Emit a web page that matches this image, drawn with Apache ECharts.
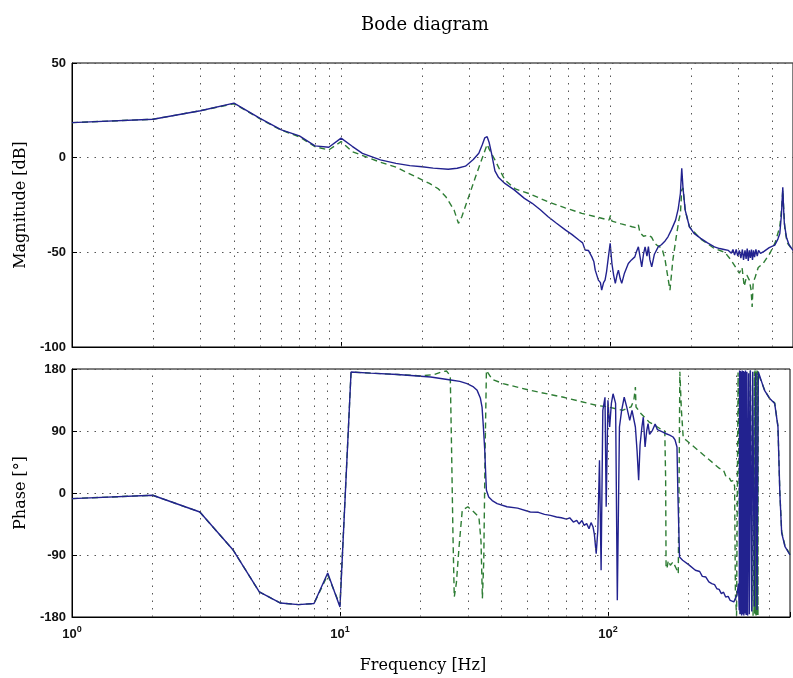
<!DOCTYPE html>
<html>
<head>
<meta charset="utf-8">
<script src="https://cdn.jsdelivr.net/npm/echarts@6/dist/echarts.min.js"></script>
<style>
html,body{margin:0;padding:0;background:#fff;}
#chart{width:793px;height:678px;}
</style>
</head>
<body>
<div id="chart"></div>
<script>
// ---- Data (frequency [Hz], value) ----
const magBlue = [
  [1,18.5],[2,20.3],[3,24.8],[4,28.8],[5,20.8],[6,14.7],[7,11.5],[8,6.2],[9,5.5],[10,10.3],
  [11,6.0],[12,2.3],[14,-1.2],[16,-3.0],[18,-4.2],[20,-4.8],[22,-5.5],[25,-6.1],[27,-5.6],[29,-4.5],
  [31,-1.0],[32.5,2.3],[33.5,7],[34.2,10.5],[34.9,11.1],[35.5,8.0],[36.2,2.5],[37.3,-7.0],[38.5,-10.5],[40.6,-13.6],
  [44,-17],[48,-21.5],[51.3,-24.1],[55,-27.5],[58.8,-31.2],[63,-34.5],[68.3,-38.3],[72,-40.5],[76.5,-43.5],[79,-45],
  [80.7,-48.8],[83,-49],[85.5,-52.4],[87,-55],[88,-59.4],[90.4,-64.7],[92,-66],[93,-70.0],[94.5,-66],[95.7,-64.7],
  [97,-60],[98.5,-52.4],[100,-45.3],[101.5,-55.9],[103,-62],[104.5,-66.4],[106,-62],[107.3,-59.4],[109,-64],[110.4,-66.4],
  [113,-61],[116.8,-55.9],[120,-54],[123.5,-52.4],[125,-50],[127.3,-47.1],[129,-52],[131,-57.7],[133,-51],[134.8,-47.1],
  [137,-52],[138.7,-47],[140.5,-54],[142.7,-57.7],[146,-51],[151,-47],[155,-46],[160,-44],[164,-41.8],[169,-38],
  [175,-33],[179,-27],[182.4,-18.8],[184.5,-5.6],[186.5,-16],[190,-27.7],[197,-36.5],[205,-40],[217,-42.6],[230,-45],
  [244,-47.1],[255,-48],[265,-48.5],[275,-49],[282,-50.5],[286,-48.5],[290,-51.5],[294,-48.5],[298,-52],[302,-49],
  [306,-53],[310,-48.5],[313,-54],[317,-49],[320,-53.5],[323,-48],[326,-54.5],[329,-49],[332,-53],[335,-48.5],
  [338,-54],[341,-49],[344,-52.5],[348,-48.5],[352,-52],[356,-49],[362,-50.5],[373,-49.5],[390,-47.5],[409,-46.2],
  [420,-43],[427,-40],[433,-30],[438,-15.7],[441,-27],[444,-35],[452,-42],[462,-46],[478,-49]
];
const magGreen = [
  [1,18.5],[2,20.3],[3,24.8],[4,28.5],[5,20.5],[6,14.5],[7,11.0],[8,5.8],[9,4.1],[10,8.5],
  [11,3.2],[13.8,-2.1],[16,-5.0],[18.4,-9.2],[21.3,-13.6],[23,-16.5],[24.5,-20.6],[26.3,-27.7],[27.3,-34.7],[28.1,-31.2],
  [29.8,-20.6],[31.6,-10.1],[33.6,0.5],[34.9,7.0],[35.5,4.5],[37.3,-1.2],[40.6,-11.8],[44.4,-16.5],[50,-19],[58.8,-23.3],
  [68,-26.5],[78.4,-29.4],[90,-31.5],[99,-33],[100.3,-30.5],[101.5,-33.5],[110,-35],[120.6,-36.5],[125,-37],[127.3,-35.5],
  [129,-39.5],[133,-41.5],[138.7,-40.9],[142.5,-42],[146.6,-45.3],[150,-46.5],[155.8,-47.9],[160,-54],[162.5,-60],[166.8,-70.0],
  [171,-54],[176,-41.8],[180,-33],[182.4,-29.4],[184.5,-17.1],[186.5,-16],[190,-27.7],[197,-36.5],[217,-43],[244,-48],
  [267,-50],[281,-54],[290,-57],[302,-61],[309,-58],[315,-68],[322,-62],[329,-64.7],[334,-70],[337,-78.8],
  [340,-66],[346,-63],[355,-58],[370,-55.9],[392,-50.6],[410,-45],[427,-36.5],[434,-26],[438,-17.1],[442,-28],
  [446,-38],[455,-45],[478,-49]
];
const phaseBlue = [
  [1,-8.1],[2,-3.3],[3,-27.6],[4,-83.2],[5,-143.7],[6,-159.7],[7,-162.0],[8,-160.5],[9,-116.1],[10,-165.5],
  [11,175.6],[13,174],[16.4,172],[21.8,168.4],[25.9,164],[28,162],[29.8,158.8],[31.5,154],[32.5,149],[33.4,138],
  [33.9,124.8],[34.3,95],[34.7,62],[35.0,25],[35.2,3.9],[35.9,-5.8],[37,-11],[38.6,-15.4],[42,-20],[46,-22],
  [51.3,-27.6],[55,-28],[58,-31],[61,-32.5],[64.3,-34.8],[67,-36],[70,-38],[72,-36],[74.3,-42.1],[76.5,-39.6],
  [78,-45],[80,-40],[81.5,-47],[83.3,-44.5],[85,-52],[86.5,-43],[88,-49.4],[89,-60],[90.4,-88],[91.7,-54],
  [93,47.5],[94.3,-112],[95.7,120],[97.5,139],[98.5,-20],[100,134.6],[101.5,95.8],[103,130],[104.5,144],[106.8,130],
  [108.4,-155.8],[110.4,95.8],[112.5,120],[115,139],[117.5,125],[120.6,105.5],[123,120],[126.6,95.8],[128.5,60],[130.2,18.4],
  [131.8,70],[133.9,95.8],[135.5,110],[137.6,66.8],[139.5,90],[141.2,100.7],[143,85],[146.6,91],[150,100],[153,92],
  [159.7,88.6],[165,86],[170,84],[175,81.3],[178,77],[181,66.8],[182.4,-1],[185,-93],[190,-97.7],[200,-104],
  [212,-112.2],[220,-114],[225,-121],[232,-122],[238,-129],[244,-131.5],[250,-133],[255,-139],[260,-140],[265,-146],
  [270,-144],[275,-151],[281,-150],[286,-156],[290,-154],[295,-158],[298,-155.8],[303,-148],[307,-131.5],[309,-170],
  [310,178],[311,-176],[312,177],[313,-175],[314,176],[315.5,-178],[317,178],[318.5,-176],[320,177],[321.5,-178],
  [323,176],[324.5,-175],[326,178],[328,-177],[330,176],[332,-178],[335,174],[337,-176],[340,178],[344,-172],
  [347,176],[352,-165],[356,174],[360,-170],[364,176],[384,149],[400,138],[419,130],[431,96],[438,0],
  [445,-58],[458,-78],[478,-90]
];
const phaseGreen = [
  [1,-8.1],[2,-3.3],[3,-27.6],[4,-83.2],[5,-143.7],[6,-159.7],[7,-162.0],[8,-160.5],[9,-119],[10,-163],
  [11,175.6],[13,174],[16.4,172],[20,170],[22.5,172],[24,176],[25,177],[25.8,170],[26.1,60],[26.4,-60],
  [26.7,-151],[27.2,-130],[27.8,-80],[28.6,-25],[30,-20],[31.6,-27.6],[33,-35],[33.6,-70],[34.0,-153],[34.4,-100],
  [34.8,60],[35.2,178],[37,165],[40.6,158.8],[51.3,149],[68.3,139],[90.4,127.3],[100,125],[113.3,120],[122,125],
  [125,135],[126.6,153.9],[127.3,124.8],[133,115],[142.5,103],[150,98],[160,91],[163,90],[164.2,20],[164.8,-107],
  [166,-110],[168,-98],[171,-105],[175,-100],[180,-110],[183,-117],[184.5,40],[185.5,176],[188,120],[191,80],
  [196,76.5],[220,60],[240,47.5],[260,36],[270,33],[275,25],[282,24],[288,17],[293,18],[297,10],
  [299,-146],[302,-178],[306,175],[312,-176],[320,177],[330,-176],[340,177],[348,-178],[352,176],[353,-177],
  [354,178],[355,-176],[356,177],[357,-178],[358,176],[359,-177],[360,178],[361,-176],[362,177],[363,-178],
  [364,173],[384,150],[400,138],[419,131],[431,97],[438,2],[445,-56],[458,-77],[478,-89]
];
const gridFreqs = [2,3,4,5,6,7,8,9,10,20,30,40,50,60,70,80,90,100,200,300,400];
const magTicks = {min:-100, max:50, interval:50};
const phaseTicks = {min:-180, max:180, interval:90};
const freqRange = {min:1, max:478};

// ---- Chart ----
const blue = '#22228f';
const green = '#2e7d34';
const serif = 'DejaVu Serif';
const sans = 'Liberation Sans';
const chart = echarts.init(document.getElementById('chart'), null, {renderer:'canvas'});

function freqLabel(v){
  const e = Math.round(Math.log10(v));
  if (Math.abs(Math.pow(10, e) - v) < 1e-6 * v) return '{b|10}{s|' + e + '}';
  return '';
}
function gridLines(){
  return {
    silent: true, symbol: ['none','none'], label: {show:false},
    lineStyle: {type:[1.5,6], color:'#555', width:1},
    animation: false,
    data: gridFreqs.map(f => ({xAxis: f}))
  };
}
function xAxisOpt(idx, showLabels){
  return {
    type:'log', logBase:10, gridIndex: idx, min: freqRange.min, max: freqRange.max,
    axisLine:{show:true, onZero:false, lineStyle:{color:'#000', width:1}},
    axisTick:{show:true, inside:true, length:5, lineStyle:{color:'#000'}},
    splitLine:{show:false},
    axisLabel:{show: showLabels, formatter: freqLabel, margin: 8, color:'#000',
      rich:{ b:{fontFamily:sans, fontSize:13, fontWeight:'bold', color:'#111'},
             s:{fontFamily:sans, fontSize:9, fontWeight:'bold', color:'#111', padding:[0,0,9,0]} }},
    name: showLabels ? 'Frequency [Hz]' : '',
    nameLocation:'middle', nameGap: 41,
    nameTextStyle:{fontFamily:serif, fontSize:16, color:'#000', padding:[0,16,0,0]}
  };
}
function yAxisOpt(idx, t, name){
  return {
    type:'value', gridIndex: idx, min:t.min, max:t.max, interval:t.interval,
    axisLine:{show:true, onZero:false, lineStyle:{color:'#000', width:1}},
    axisTick:{show:true, inside:true, length:5, lineStyle:{color:'#000'}},
    axisLabel:{fontFamily:sans, fontSize:13, fontWeight:'bold', color:'#111', margin:6},
    splitLine:{show:true, lineStyle:{type:[1.5,6], color:'#555', width:1}},
    name: name, nameLocation:'middle', nameGap: 27, nameRotate: 90,
    nameTextStyle:{fontFamily:serif, fontSize:16, color:'#000'}
  };
}
function lineSeries(data, xi, color, dashed, z){
  return {
    type:'line', data: data, xAxisIndex: xi, yAxisIndex: xi,
    showSymbol:false, symbol:'none', animation:false, z: z,
    lineStyle:{color: color, width: 1.4, type: dashed ? [6,4] : 'solid'}
  };
}

chart.setOption({
  animation:false,
  backgroundColor:'#fff',
  title:{text:'Bode diagram', left: 356, top: 11,
    textStyle:{fontFamily:serif, fontSize:18, fontWeight:'normal', color:'#000'}},
  grid:[
    {left:72, right:-2, top:63, height:284, show:true, borderColor:'#000', borderWidth:1, backgroundColor:'transparent'},
    {left:72, right:-2, top:369, height:248, show:true, borderColor:'#000', borderWidth:1, backgroundColor:'transparent'}
  ],
  xAxis:[ xAxisOpt(0, false), xAxisOpt(1, true) ],
  yAxis:[ yAxisOpt(0, magTicks, 'Magnitude [dB]'), yAxisOpt(1, phaseTicks, 'Phase [°]') ],
  series:[
    {type:'line', data:[], xAxisIndex:0, yAxisIndex:0, markLine: gridLines(), z:1},
    {type:'line', data:[], xAxisIndex:1, yAxisIndex:1, markLine: gridLines(), z:1},
    lineSeries(magGreen, 0, green, true, 3),
    lineSeries(magBlue, 0, blue, false, 4),
    lineSeries(phaseGreen, 1, green, true, 3),
    lineSeries(phaseBlue, 1, blue, false, 4)
  ]
});
</script>
</body>
</html>
